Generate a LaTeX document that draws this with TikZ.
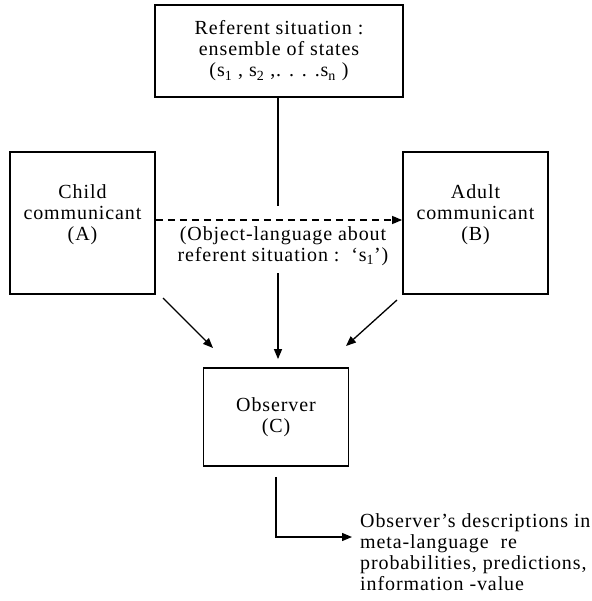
\documentclass[tikz,border=0pt]{standalone}
\usepackage{fontspec}
\setmainfont{Liberation Serif}[LetterSpace=4.5]
\usetikzlibrary{arrows.meta}
\begin{document}
\begin{tikzpicture}[x=1pt,y=-1pt,
  font=\fontsize{20}{21}\selectfont,
  box/.style={draw, line width=1.8pt, inner sep=0pt, align=center},
  conn/.style={line width=1.3pt},
  tip/.style={-{Triangle[length=10pt,width=8pt]}},
  txt/.style={inner sep=0pt, align=center}]
\useasboundingbox (0,0) rectangle (591,601);
\node[box, minimum width=248, minimum height=92] (top) at (279,51)
  {Referent situation :\\ensemble of states\\(s\textsubscript{1} , s\textsubscript{2} ,. . . .s\textsubscript{n} )};
\node[box, minimum width=145, minimum height=142] (left) at (82.5,223)
  {Child\\communicant\\(A)\\[0pt]};
\node[box, minimum width=145, minimum height=142] (right) at (475.5,223)
  {Adult\\communicant\\(B)\\[0pt]};
\node[box, minimum width=145, minimum height=98] (obs) at (276,417)
  {Observer\\(C)};
\node[txt] (lbl) at (283,246.5)
  {(Object-language about\\referent situation :\ \ ‘s\textsubscript{1}’)};
\node[txt, anchor=west, align=left] (desc) at (360,552)
  {Observer’s descriptions in\\meta-language\ \ re\\probabilities, predictions,\\information -value};
\coordinate (v1) at (278,206);
\coordinate (v2) at (278,273);
\coordinate (la1) at (163,298);
\coordinate (la2) at (213,348);
\coordinate (ra1) at (397,300);
\coordinate (ra2) at (346,346);
\draw[conn] (v1 |- top.south) -- (v1);
\draw[conn, tip, shorten >=8pt] (v2) -- (v2 |- obs.north);
\draw[conn, tip, dash pattern=on 7pt off 5pt] ([yshift=3pt]left.east) -- ([yshift=3pt]right.west);
\draw[conn, tip] (la1) -- (la2);
\draw[conn, tip] (ra1) -- (ra2);
\draw[conn, tip, shorten <=10pt, shorten >=8pt] (obs.south) |- ([yshift=15pt]desc.west);
\end{tikzpicture}
\end{document}
